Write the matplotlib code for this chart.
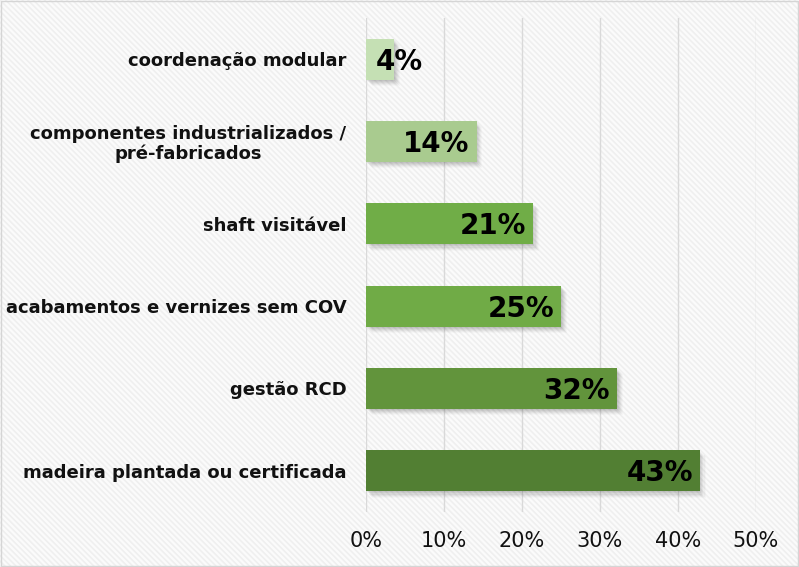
import matplotlib
matplotlib.use("Agg")
import matplotlib.pyplot as plt
import matplotlib.patheffects as pe
from matplotlib.patches import Rectangle

categories = [
    "coordenação modular",
    "componentes industrializados /\npré-fabricados",
    "shaft visitável",
    "acabamentos e vernizes sem COV",
    "gestão RCD",
    "madeira plantada ou certificada",
]
values = [3.6, 14.2, 21.4, 25.0, 32.2, 42.8]
labels = ["4%", "14%", "21%", "25%", "32%", "43%"]
colors = ["#c5e0b4", "#a9cb8f", "#70ad47", "#70ab46", "#62943c", "#527f33"]
xticks = [0, 10, 20, 30, 40, 50]
xticklabels = ["0%", "10%", "20%", "30%", "40%", "50%"]

plt.rcParams["hatch.linewidth"] = 1.2
plt.rcParams["hatch.color"] = "#efefef"

fig = plt.figure(figsize=(7.99, 5.67), dpi=100)
bg = Rectangle((0, 0), 1, 1, transform=fig.transFigure, facecolor="#fbfbfb",
               edgecolor="#efefef", hatch="\\\\\\\\\\\\", linewidth=0, zorder=-10)
fig.patches.append(bg)
border = Rectangle((0.001, 0.001), 0.998, 0.997, transform=fig.transFigure,
                   facecolor="none", edgecolor="#d5d5d5", linewidth=1.0, zorder=10)
fig.patches.append(border)

ax = fig.add_axes([366/799, 1-512/567, (756-366)/799, (512-18)/567])
ax.patch.set_alpha(0)

y = list(range(len(categories)))
shadow = []
for dx, dy, a in [(0.5, -1, 0.05), (1.5, -2, 0.05), (2.5, -3, 0.045), (3.5, -4, 0.04), (4.5, -5, 0.03), (5.5, -6, 0.02)]:
    shadow.append(pe.SimplePatchShadow(offset=(dx * 0.75, dy * 0.75), shadow_rgbFace="black", alpha=a))
shadow.append(pe.Normal())

bars = ax.barh(y, values, height=0.5, color=colors, zorder=3)
for b in bars:
    b.set_path_effects(shadow)

for yi, v, lab in zip(y, values, labels):
    if v < 8:
        ax.text(1.3, yi + 0.03, lab, ha="left", va="center", fontsize=20,
                fontweight="bold", family="DejaVu Sans", color="black", zorder=4)
    else:
        ax.text(v - 0.9, yi + 0.03, lab, ha="right", va="center", fontsize=20,
                fontweight="bold", family="DejaVu Sans", color="black", zorder=4)

ax.set_xlim(0, 50)
ax.set_ylim(5.5, -0.5)
ax.set_xticks(xticks)
ax.set_xticklabels(xticklabels, fontsize=15, color="#111111")
ax.set_yticks(y)
ax.set_yticklabels(categories, fontsize=13, fontweight="bold", color="#111111",
                   linespacing=1.1)
for t in ax.get_yticklabels():
    t.set_horizontalalignment("right")
    t.set_multialignment("center")
ax.tick_params(axis="x", length=0, pad=14)
ax.tick_params(axis="y", length=0, pad=14)
for s in ax.spines.values():
    s.set_visible(False)
ax.grid(axis="x", color="#d9d9d9", linewidth=1, zorder=0)
ax.set_axisbelow(True)

fig.savefig("out.png", dpi=100)
